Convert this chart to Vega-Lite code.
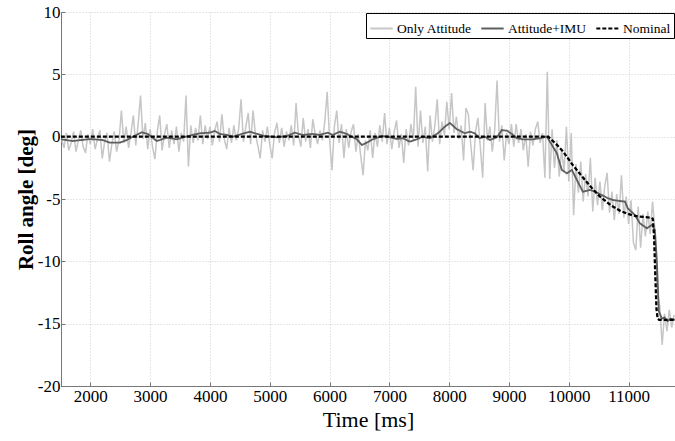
{
"$schema": "https://vega.github.io/schema/vega-lite/v6.json",
"width": 614, "height": 374,
"autosize": {"type": "none"},
"padding": {"left": 61, "top": 12, "right": 0, "bottom": 55},
"background": "white",
"config": {"view": {"stroke": null}, "font": "Liberation Serif",
  "axis": {"labelFont": "Liberation Serif", "titleFont": "Liberation Serif"},
  "legend": {"labelFont": "Liberation Serif"}},
"datasets": {
"att": [
{"t":1520,"v":-0.2},{"t":1560,"v":-0.9},{"t":1600,"v":0.3},{"t":1640,"v":-1.1},{"t":1680,"v":-0.5},{"t":1720,"v":0.4},{"t":1760,"v":-1.2},{"t":1800,"v":-0.3},{"t":1840,"v":0.5},{"t":1880,"v":-0.8},{"t":1920,"v":-1.3},{"t":1960,"v":0.2},{"t":2000,"v":-0.6},{"t":2040,"v":0.6},{"t":2080,"v":-1.0},{"t":2120,"v":-0.2},{"t":2160,"v":0.5},{"t":2200,"v":-1.75},{"t":2240,"v":-0.4},{"t":2280,"v":0.3},{"t":2320,"v":-2.0},{"t":2360,"v":-0.6},{"t":2400,"v":0.4},{"t":2440,"v":-1.2},{"t":2480,"v":-0.3},
{"t":2520,"v":2.1},{"t":2560,"v":-0.5},{"t":2600,"v":0.8},{"t":2640,"v":-0.9},{"t":2680,"v":0.3},{"t":2720,"v":1.7},{"t":2760,"v":-0.7},{"t":2800,"v":1.0},{"t":2840,"v":3.3},{"t":2880,"v":-0.2},{"t":2920,"v":1.1},{"t":2960,"v":-1.0},{"t":3000,"v":0.6},{"t":3040,"v":-0.8},{"t":3080,"v":-1.8},{"t":3120,"v":0.4},{"t":3160,"v":1.7},{"t":3200,"v":-1.1},{"t":3240,"v":0.2},{"t":3280,"v":1.0},{"t":3320,"v":-0.9},{"t":3360,"v":0.5},{"t":3400,"v":-0.6},{"t":3440,"v":0.8},{"t":3480,"v":-1.2},{"t":3520,"v":0.3},{"t":3560,"v":-0.4},{"t":3600,"v":3.3},{"t":3640,"v":-2.4},
{"t":3680,"v":0.9},{"t":3720,"v":-0.5},{"t":3760,"v":0.7},{"t":3800,"v":-0.3},{"t":3840,"v":1.7},{"t":3880,"v":-0.6},{"t":3920,"v":0.9},{"t":3960,"v":-0.2},{"t":4000,"v":0.8},{"t":4040,"v":-0.7},{"t":4080,"v":0.5},{"t":4120,"v":1.2},{"t":4160,"v":-0.4},{"t":4200,"v":1.8},{"t":4240,"v":-0.2},{"t":4280,"v":-1.0},{"t":4320,"v":0.7},{"t":4360,"v":-0.5},{"t":4400,"v":0.9},{"t":4440,"v":-0.3},{"t":4480,"v":0.6},{"t":4520,"v":3.0},{"t":4560,"v":-0.4},{"t":4600,"v":0.8},{"t":4640,"v":1.9},{"t":4680,"v":-0.6},{"t":4720,"v":2.1},{"t":4760,"v":0.2},{"t":4800,"v":-0.7},{"t":4840,"v":-1.75},{"t":4880,"v":0.5},{"t":4920,"v":-0.4},{"t":4960,"v":0.8},{"t":5000,"v":-0.6},{"t":5040,"v":-1.75},{"t":5080,"v":0.3},{"t":5120,"v":1.1},{"t":5160,"v":-0.5},{"t":5200,"v":0.7},{"t":5240,"v":-0.8},{"t":5280,"v":0.4},{"t":5320,"v":-0.3},{"t":5360,"v":0.9},{"t":5400,"v":-0.7},{"t":5440,"v":2.7},{"t":5480,"v":0.1},{"t":5520,"v":-0.8},{"t":5560,"v":1.5},{"t":5600,"v":-0.4},{"t":5640,"v":0.6},{"t":5680,"v":-0.9},{"t":5720,"v":1.4},{"t":5760,"v":0.2},{"t":5800,"v":-0.6},
{"t":5840,"v":0.5},{"t":5880,"v":-0.3},{"t":5920,"v":1.2},{"t":5960,"v":3.6},{"t":6000,"v":-0.2},{"t":6040,"v":-2.7},{"t":6080,"v":0.8},{"t":6120,"v":2.1},{"t":6160,"v":-0.5},{"t":6200,"v":1.0},{"t":6240,"v":-1.7},{"t":6280,"v":0.6},{"t":6320,"v":-0.9},{"t":6360,"v":0.4},{"t":6400,"v":1.0},{"t":6440,"v":-1.2},{"t":6480,"v":0.2},{"t":6520,"v":-1.5},{"t":6560,"v":-3.1},{"t":6600,"v":-0.3},{"t":6640,"v":-1.1},{"t":6680,"v":0.5},{"t":6720,"v":-1.7},{"t":6760,"v":0.3},{"t":6800,"v":-0.8},{"t":6840,"v":0.9},{"t":6880,"v":-0.4},{"t":6920,"v":1.9},{"t":6960,"v":-0.6},{"t":7000,"v":0.7},{"t":7040,"v":-1.0},{"t":7080,"v":0.4},{"t":7120,"v":1.3},{"t":7160,"v":-0.9},{"t":7200,"v":0.2},{"t":7240,"v":-2.1},{"t":7280,"v":0.6},{"t":7320,"v":-0.7},{"t":7360,"v":1.0},{"t":7400,"v":-0.3},{"t":7440,"v":4.0},{"t":7480,"v":-0.8},{"t":7520,"v":2.1},{"t":7560,"v":-0.5},{"t":7600,"v":0.8},{"t":7640,"v":-2.8},{"t":7680,"v":1.7},{"t":7720,"v":-0.4},{"t":7760,"v":0.9},{"t":7800,"v":3.0},{"t":7840,"v":-0.6},{"t":7880,"v":1.2},{"t":7920,"v":0.1},{"t":7960,"v":2.8},
{"t":8000,"v":0.6},{"t":8040,"v":3.5},{"t":8080,"v":0.3},{"t":8120,"v":1.6},{"t":8160,"v":-0.2},{"t":8200,"v":0.9},{"t":8240,"v":-1.9},{"t":8280,"v":2.3},{"t":8320,"v":1.8},{"t":8360,"v":-0.6},{"t":8400,"v":-2.7},{"t":8440,"v":0.4},{"t":8480,"v":1.5},{"t":8520,"v":-0.8},{"t":8560,"v":-3.3},{"t":8600,"v":2.7},{"t":8640,"v":-0.3},{"t":8680,"v":0.8},{"t":8720,"v":-1.2},{"t":8760,"v":0.5},{"t":8800,"v":4.5},{"t":8840,"v":-0.4},{"t":8880,"v":0.9},{"t":8920,"v":-1.9},{"t":8960,"v":0.3},{"t":9000,"v":-0.6},{"t":9040,"v":1.0},{"t":9080,"v":-0.8},{"t":9120,"v":1.0},{"t":9160,"v":-0.5},{"t":9200,"v":0.6},{"t":9240,"v":-1.1},{"t":9280,"v":0.2},{"t":9320,"v":-2.4},{"t":9360,"v":0.4},{"t":9400,"v":-0.7},{"t":9440,"v":0.6},{"t":9480,"v":1.2},{"t":9520,"v":-0.5},{"t":9560,"v":0.3},{"t":9600,"v":-3.3},{"t":9640,"v":5.2},
{"t":9680,"v":-3.4},{"t":9720,"v":0.6},{"t":9760,"v":-2.5},{"t":9800,"v":-0.3},{"t":9840,"v":-3.2},{"t":9880,"v":-1.0},{"t":9920,"v":-2.8},{"t":9960,"v":0.8},{"t":10000,"v":-3.6},{"t":10040,"v":0.3},{"t":10080,"v":-6.3},{"t":10120,"v":-2.2},{"t":10160,"v":-4.5},{"t":10200,"v":-2.0},{"t":10240,"v":-5.2},{"t":10280,"v":-3.0},{"t":10320,"v":-4.8},{"t":10360,"v":-1.7},{"t":10400,"v":-6.0},{"t":10440,"v":-3.3},{"t":10480,"v":-5.5},{"t":10520,"v":-3.6},{"t":10560,"v":-5.9},{"t":10600,"v":-4.0},{"t":10640,"v":-2.9},{"t":10680,"v":-6.1},{"t":10720,"v":-4.4},{"t":10760,"v":-6.7},{"t":10800,"v":-4.6},{"t":10840,"v":-6.2},{"t":10880,"v":-3.1},{"t":10920,"v":-6.5},{"t":10960,"v":-4.8},{"t":11000,"v":-7.0},{"t":11040,"v":-5.1},{"t":11080,"v":-8.5},{"t":11120,"v":-9.1},{"t":11160,"v":-5.6},{"t":11200,"v":-8.9},{"t":11240,"v":-6.2},{"t":11280,"v":-8.0},{"t":11320,"v":-6.0},{"t":11360,"v":-7.8},{"t":11400,"v":-5.2},{"t":11440,"v":-7.6},
{"t":11480,"v":-12.5},{"t":11520,"v":-13.6},{"t":11560,"v":-16.7},{"t":11600,"v":-14.2},{"t":11640,"v":-15.6},{"t":11680,"v":-13.9},{"t":11720,"v":-15.3},{"t":11760,"v":-14.3}
],
"imu": [
{"t":1507,"v":-0.21},{"t":1707,"v":-0.35},{"t":1992,"v":-0.19},{"t":2209,"v":-0.27},{"t":2326,"v":-0.48},{"t":2493,"v":-0.48},{"t":2610,"v":-0.27},{"t":2711,"v":0.0},{"t":2861,"v":0.35},{"t":2961,"v":0.22},{"t":3112,"v":-0.35},{"t":3279,"v":-0.08},{"t":3446,"v":-0.21},{"t":3630,"v":0.05},
{"t":3831,"v":0.27},{"t":3998,"v":0.32},{"t":4082,"v":0.46},{"t":4165,"v":0.22},{"t":4282,"v":0.14},{"t":4383,"v":0.0},{"t":4533,"v":0.22},{"t":4667,"v":0.4},{"t":4784,"v":0.22},{"t":4918,"v":0.05},{"t":5118,"v":-0.05},{"t":5286,"v":0.05},{"t":5419,"v":0.32},{"t":5553,"v":0.14},{"t":5720,"v":0.22},{"t":5837,"v":0.14},
{"t":5971,"v":0.32},{"t":6054,"v":0.14},{"t":6171,"v":0.4},{"t":6288,"v":0.22},{"t":6372,"v":0.0},{"t":6455,"v":-0.21},{"t":6539,"v":-0.67},{"t":6623,"v":-0.48},{"t":6723,"v":-0.21},{"t":6873,"v":0.05},{"t":6974,"v":0.0},{"t":7124,"v":-0.19},{"t":7225,"v":-0.13},{"t":7342,"v":-0.4},{"t":7459,"v":-0.21},{"t":7559,"v":0.0},{"t":7676,"v":-0.13},{"t":7810,"v":0.27},{"t":7927,"v":0.8},{"t":8011,"v":1.1},
{"t":8128,"v":0.6},{"t":8262,"v":0.27},{"t":8345,"v":0.4},{"t":8429,"v":0.27},{"t":8512,"v":-0.13},{"t":8596,"v":0.0},{"t":8680,"v":-0.27},{"t":8797,"v":-0.05},{"t":8880,"v":0.53},{"t":8964,"v":0.48},{"t":9048,"v":0.22},{"t":9131,"v":-0.13},{"t":9232,"v":-0.21},{"t":9399,"v":-0.21},{"t":9516,"v":-0.13},{"t":9633,"v":0.0},
{"t":9800,"v":-1.33},{"t":9883,"v":-2.67},{"t":9967,"v":-2.94},{"t":10051,"v":-2.67},{"t":10134,"v":-3.47},{"t":10234,"v":-4.41},{"t":10352,"v":-4.27},{"t":10435,"v":-4.41},{"t":10552,"v":-4.68},{"t":10653,"v":-4.94},{"t":10737,"v":-5.08},{"t":10854,"v":-5.16},{"t":10937,"v":-5.21},{"t":10987,"v":-5.75},{"t":11104,"v":-6.28},{"t":11188,"v":-6.95},{"t":11305,"v":-7.35},{"t":11388,"v":-7.08},{"t":11439,"v":-7.48},
{"t":11472,"v":-10.0},{"t":11505,"v":-14.0},{"t":11556,"v":-14.6},{"t":11600,"v":-14.5},{"t":11650,"v":-14.8},{"t":11700,"v":-14.6},{"t":11775,"v":-14.7}
],
"nom": [
{"t":1507,"v":0},{"t":9655,"v":0},{"t":9780,"v":-0.55},{"t":9905,"v":-1.2},{"t":10070,"v":-2.3},{"t":10240,"v":-3.3},{"t":10380,"v":-4.1},{"t":10519,"v":-4.8},{"t":10700,"v":-5.5},{"t":10860,"v":-5.95},{"t":10965,"v":-6.15},{"t":11060,"v":-6.3},{"t":11159,"v":-6.4},{"t":11383,"v":-6.5},{"t":11405,"v":-6.6},{"t":11425,"v":-8.0},{"t":11445,"v":-11.0},{"t":11465,"v":-13.8},{"t":11485,"v":-14.6},{"t":11510,"v":-14.7},{"t":11775,"v":-14.7}
]
},
"encoding": {
"x": {"field": "t", "type": "quantitative",
  "scale": {"domain": [1510, 11775], "nice": false, "zero": false},
  "axis": {"title": "Time [ms]", "values": [2000,3000,4000,5000,6000,7000,8000,9000,10000,11000],
    "labelExpr": "'' + datum.value", "labelFont": "Liberation Serif", "labelFontSize": 17, "labelColor": "#000", "labelPadding": 6,
    "titleFont": "Liberation Serif", "titleFontSize": 22, "titleFontWeight": "normal", "titleColor": "#000", "titlePadding": 5,
    "domainColor": "#777", "domainWidth": 1, "tickColor": "#777", "tickSize": -4,
    "grid": true, "gridColor": "#cfcfcf", "gridDash": [1, 2], "gridWidth": 1}},
"y": {"field": "v", "type": "quantitative",
  "scale": {"domain": [-20, 10], "nice": false, "zero": false},
  "axis": {"title": "Roll angle [deg]", "values": [-20,-15,-10,-5,0,5,10],
    "labelExpr": "'' + datum.value", "labelFont": "Liberation Serif", "labelFontSize": 17, "labelColor": "#000", "labelPadding": 5,
    "titleFont": "Liberation Serif", "titleFontSize": 21, "titleFontWeight": "bold", "titleColor": "#000", "titlePadding": 1,
    "domainColor": "#777", "domainWidth": 1, "tickColor": "#777", "tickSize": -4,
    "grid": true, "gridColor": "#cfcfcf", "gridDash": [1, 2], "gridWidth": 1}}
},
"layer": [
{"data": {"name": "att"}, "mark": {"type": "line", "strokeWidth": 1.5, "clip": true},
 "encoding": {"color": {"datum": "Only Attitude"}, "strokeDash": {"datum": "Only Attitude"}}},
{"data": {"name": "imu"}, "mark": {"type": "line", "strokeWidth": 1.8, "clip": true},
 "encoding": {"color": {"datum": "Attitude+IMU"}, "strokeDash": {"datum": "Attitude+IMU"}}},
{"data": {"name": "nom"}, "mark": {"type": "line", "strokeWidth": 2.3, "clip": true},
 "encoding": {
  "color": {"datum": "Nominal", "type": "nominal",
    "scale": {"domain": ["Only Attitude", "Attitude+IMU", "Nominal"], "range": ["#c6c6c6", "#5e5e5e", "#000000"]},
    "legend": {"title": null, "orient": "top-right", "offset": 1, "direction": "horizontal",
      "strokeColor": "#000", "fillColor": "#fff", "padding": 3, "cornerRadius": 0,
      "labelFontSize": 13.5, "labelColor": "#000", "labelFont": "Liberation Serif",
      "symbolType": "stroke", "symbolSize": 500, "symbolStrokeWidth": 2, "columnPadding": 5, "labelOffset": 3}},
  "strokeDash": {"datum": "Nominal", "type": "nominal",
    "scale": {"domain": ["Only Attitude", "Attitude+IMU", "Nominal"], "range": [[1, 0], [1, 0], [4, 2]]},
    "legend": {"title": null}}}}
]
}
